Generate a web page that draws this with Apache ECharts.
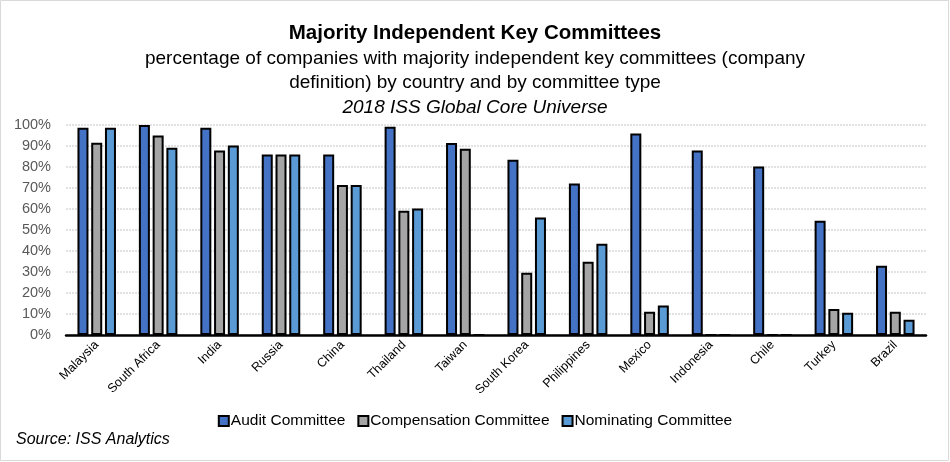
<!DOCTYPE html>
<html>
<head>
<meta charset="utf-8">
<script src="https://cdn.jsdelivr.net/npm/echarts@6/dist/echarts.min.js"></script>
<style>
html,body{margin:0;padding:0;background:#fff;}
#c{width:950px;height:462px;}
</style>
</head>
<body>
<div id="c"></div>
<script>
const categories = ['Malaysia','South Africa','India','Russia','China','Thailand','Taiwan','South Korea','Philippines','Mexico','Indonesia','Chile','Turkey','Brazil'];
const audit = [98.7, 100, 98.7, 86, 86, 99.2, 91.4, 83.5, 72.1, 95.9, 87.8, 80.2, 54.4, 33.0];
const compensation = [91.6, 95, 87.9, 86, 71.4, 59.2, 88.7, 29.7, 34.9, 11.1, 0, 0, 12.4, 11.1];
const nominating = [98.7, 89.2, 90.2, 86, 71.4, 60.2, 0, 55.9, 43.5, 14.0, 0, 0, 10.6, 7.3];
const yTicks = [0,10,20,30,40,50,60,70,80,90,100];

const FONT = '"Liberation Sans", Arial, sans-serif';
const chart = echarts.init(document.getElementById('c'));
const border = {borderColor:'#000', borderWidth:2};
chart.setOption({
  animation:false,
  textStyle:{fontFamily:FONT},
  title:[
    {text:'Majority Independent Key Committees', left:'center', top:18,
     textStyle:{fontFamily:FONT, fontSize:20.5, fontWeight:'bold', color:'#000'}},
    {text:'percentage of companies with majority independent key committees (company\ndefinition) by country and by committee type', left:'center', top:42,
     textStyle:{fontFamily:FONT, fontSize:19, fontWeight:'normal', color:'#000', lineHeight:24}},
    {text:'2018 ISS Global Core Universe', left:'center', top:93,
     textStyle:{fontFamily:FONT, fontSize:19, fontWeight:'normal', fontStyle:'italic', color:'#000'}}
  ],
  legend:{
    bottom:28, left:'center', itemWidth:10, itemHeight:10, itemGap:12,
    icon:'rect',
    textStyle:{fontFamily:FONT, fontSize:15.5, color:'#000', padding:[0,0,0,-3]},
    data:['Audit Committee','Compensation Committee','Nominating Committee']
  },
  graphic:[
    {type:'rect', shape:{x:0.5,y:0.5,width:948,height:460}, style:{fill:'none', stroke:'#d9d9d9', lineWidth:1}, silent:true},
    {type:'text', left:16, top:432, style:{text:'Source: ISS Analytics', fontFamily:FONT, fontSize:16, fontStyle:'italic', fill:'#000'}}
  ],
  grid:{left:66, right:24, top:125, bottom:127, containLabel:false},
  xAxis:{
    type:'category', data:categories,
    axisLine:{lineStyle:{color:'#000', width:2.5}},
    axisTick:{show:false},
    axisLabel:{rotate:45, fontFamily:FONT, fontSize:12.5, color:'#000', interval:0, margin:8}
  },
  yAxis:{
    type:'value', min:0, max:100, interval:10,
    axisLine:{show:false}, axisTick:{show:false},
    axisLabel:{fontFamily:FONT, fontSize:14.5, color:'#595959', margin:15,
      formatter:function(v){ return yTicks.indexOf(v)>=0 ? v+'%' : ''; }},
    splitLine:{lineStyle:{color:'#d9d9d9', width:1.5, type:[2,1]}}
  },
  series:[
    {name:'Audit Committee', type:'bar', data:audit, barWidth:11, barGap:'25%',
     itemStyle:Object.assign({color:'#4472C4'}, border)},
    {name:'Compensation Committee', type:'bar', data:compensation, barWidth:11, barGap:'25%',
     itemStyle:Object.assign({color:'#A5A5A5'}, border)},
    {name:'Nominating Committee', type:'bar', data:nominating, barWidth:11, barGap:'25%',
     itemStyle:Object.assign({color:'#5B9BD5'}, border)}
  ]
});
</script>
</body>
</html>
